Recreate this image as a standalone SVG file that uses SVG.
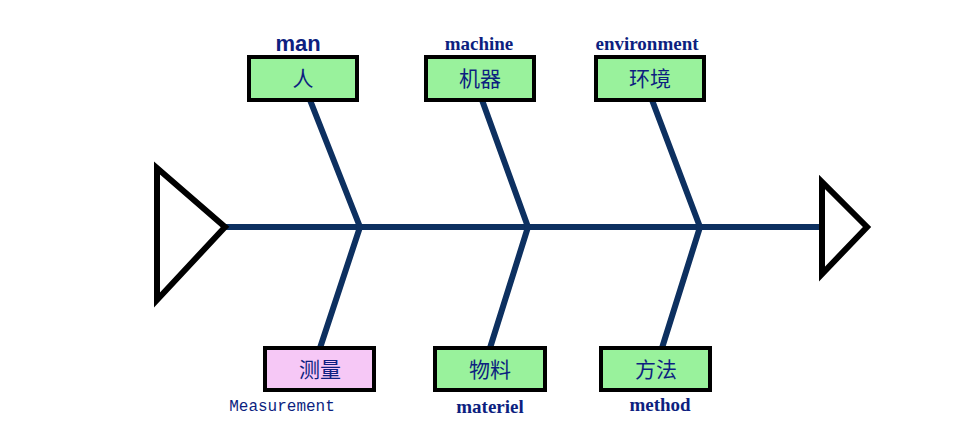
<svg xmlns="http://www.w3.org/2000/svg" width="960" height="421" viewBox="0 0 960 421">
<style>
.bone{stroke:#0d3060;stroke-width:6;fill:none;stroke-linecap:round}
.tri{fill:#fff;stroke:#000;stroke-width:6;stroke-linejoin:miter}
.box{stroke:#000;stroke-width:4}
.g{fill:#99f29c}
.p{fill:#f6c8f6}
.cjk{font-family:"Noto Sans CJK SC",sans-serif;font-size:21px;fill:#0d1f80;text-anchor:middle}
.en{font-family:"Liberation Serif",serif;font-weight:bold;font-size:19px;fill:#0d1f80;text-anchor:middle}
</style>
<rect width="960" height="421" fill="#fff"/>
<g id="connectors">
<line class="bone" x1="225" y1="227" x2="822" y2="227"/>
<line class="bone" x1="360" y1="227" x2="310" y2="100"/>
<line class="bone" x1="360" y1="227" x2="320" y2="348"/>
<line class="bone" x1="528" y1="227" x2="482" y2="100"/>
<line class="bone" x1="528" y1="227" x2="490" y2="348"/>
<line class="bone" x1="700" y1="227" x2="652" y2="100"/>
<line class="bone" x1="700" y1="227" x2="662" y2="348"/>
</g>
<g id="head"><polygon class="tri" points="157,168 157,300 225,227"/></g>
<g id="tail"><polygon class="tri" points="822,182 822,274 867,227"/></g>
<g id="man"><rect class="box g" x="249" y="57" width="108" height="43"/><text class="cjk" x="303" y="86">人</text>
<text x="298" y="51" font-family="Liberation Sans,sans-serif" font-weight="bold" font-size="22" fill="#0d1f80" text-anchor="middle">man</text></g>
<g id="machine"><rect class="box g" x="426" y="57" width="108" height="43"/><text class="cjk" x="480" y="86">机器</text>
<text class="en" x="479" y="50">machine</text></g>
<g id="environment"><rect class="box g" x="596" y="57" width="108" height="43"/><text class="cjk" x="650" y="86">环境</text>
<text class="en" x="647" y="50">environment</text></g>
<g id="measurement"><rect class="box p" x="265" y="348" width="109" height="42"/><text class="cjk" x="320" y="377">测量</text>
<text x="282" y="411" font-family="Liberation Mono,monospace" font-size="16" fill="#0d1f80" text-anchor="middle">Measurement</text></g>
<g id="materiel"><rect class="box g" x="435" y="348" width="110" height="42"/><text class="cjk" x="490" y="377">物料</text>
<text class="en" x="490" y="413">materiel</text></g>
<g id="method"><rect class="box g" x="601" y="348" width="109" height="42"/><text class="cjk" x="656" y="377">方法</text>
<text class="en" x="660" y="411" font-size="17">method</text></g>
</svg>
